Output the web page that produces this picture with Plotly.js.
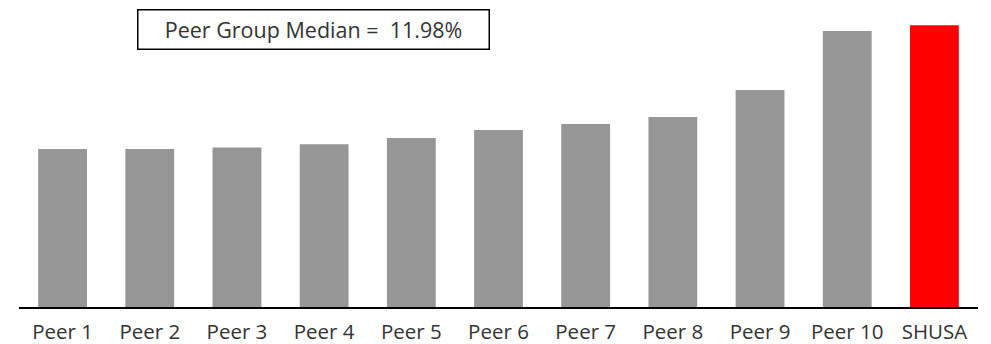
<!DOCTYPE html>
<html>
<head>
<meta charset="utf-8">
<script src="https://cdn.plot.ly/plotly-3.0.1.min.js"></script>
<style>html,body{margin:0;padding:0;background:#fff;}#chart{width:991px;height:344px;}</style>
</head>
<body>
<div id="chart"></div>
<script>
const categories = ["Peer 1","Peer 2","Peer 3","Peer 4","Peer 5","Peer 6","Peer 7","Peer 8","Peer 9","Peer 10","SHUSA"];
const values = [10.94, 10.94, 11.05, 11.27, 11.70, 12.26, 12.67, 13.16, 15.03, 19.11, 19.51];
const barColors = ["#969696","#969696","#969696","#969696","#969696","#969696","#969696","#969696","#969696","#969696","#FF0000"];
const medianLabel = "Peer Group Median =\u00a0 11.98%";

const trace = {
  type: "bar",
  x: categories,
  y: values,
  marker: {color: barColors, line: {width: 0}},
  hoverinfo: "skip"
};

const layout = {
  width: 991, height: 344,
  margin: {l: 19, r: 13, t: 10, b: 37, pad: 0},
  paper_bgcolor: "#fff", plot_bgcolor: "#fff",
  bargap: 0.44,
  showlegend: false,
  font: {family: "Open Sans, sans-serif", color: "#333", size: 20},
  xaxis: {
    type: "category",
    range: [-0.5, 10.5],
    showline: true, linecolor: "#000", linewidth: 2,
    ticks: "", showgrid: false, zeroline: false,
    tickfont: {size: 20.5, color: "#333"},
    ticklabelstandoff: 5,
    fixedrange: true
  },
  yaxis: {
    range: [0, 20.57],
    visible: false, showgrid: false, zeroline: false,
    fixedrange: true
  },
  annotations: [{
    xref: "paper", yref: "paper",
    x: 0.3076, y: 0.9327,
    xanchor: "center", yanchor: "middle",
    text: medianLabel,
    showarrow: false,
    font: {size: 21.5, color: "#333"},
    bordercolor: "#000", borderwidth: 1.5, borderpad: 2,
    bgcolor: "#fff",
    width: 346, height: 34
  }]
};

Plotly.newPlot("chart", [trace], layout, {staticPlot: true, displayModeBar: false});
</script>
</body>
</html>
